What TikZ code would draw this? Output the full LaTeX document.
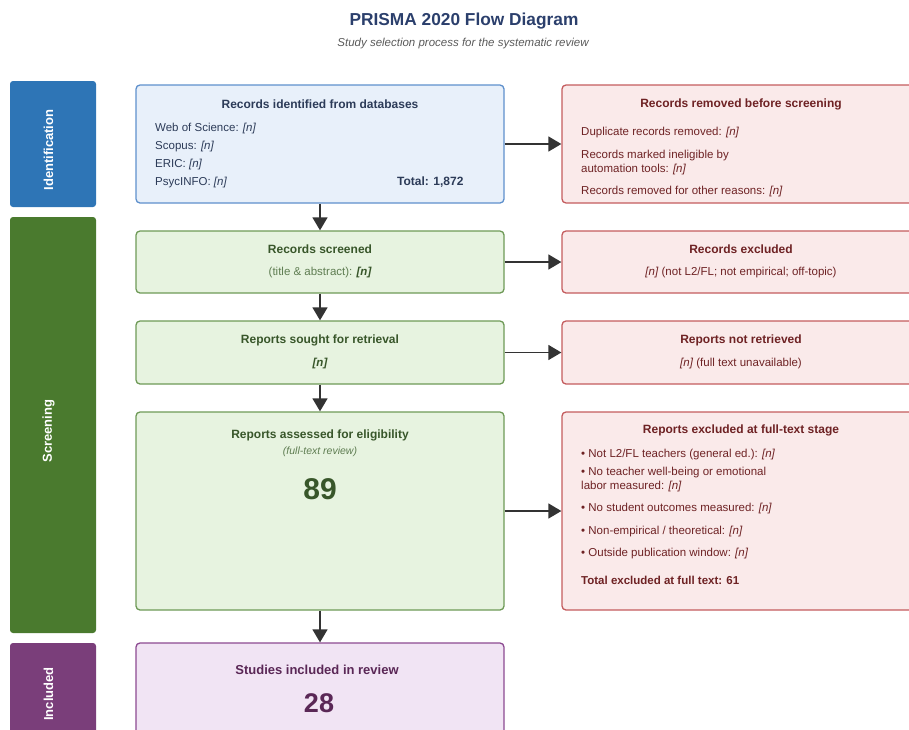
\documentclass[tikz,border=0pt]{standalone}
\usepackage{fontspec}
\setmainfont{Liberation Sans}
\usetikzlibrary{arrows.meta}

\definecolor{titleblue}{HTML}{2B3F6C}
\definecolor{subgray}{HTML}{5A5A5A}
\definecolor{idfill}{HTML}{E8F0FA}
\definecolor{idline}{HTML}{5E90CC}
\definecolor{idtext}{HTML}{2C3B58}
\definecolor{grfill}{HTML}{E7F3E0}
\definecolor{grline}{HTML}{6E9A57}
\definecolor{grtext}{HTML}{38562A}
\definecolor{grsoft}{HTML}{5F7D52}
\definecolor{rdfill}{HTML}{FAEAEA}
\definecolor{rdline}{HTML}{C45C5E}
\definecolor{rdtext}{HTML}{6E2224}
\definecolor{pufill}{HTML}{F1E4F4}
\definecolor{puline}{HTML}{8C4A91}
\definecolor{putext}{HTML}{5A2756}
\definecolor{barblue}{HTML}{2E75B6}
\definecolor{bargreen}{HTML}{4A7A2E}
\definecolor{barpurple}{HTML}{7A3E7A}
\definecolor{arrgray}{HTML}{333333}

\begin{document}
\begin{tikzpicture}[x=1pt,y=-1pt,
  box/.style={draw,rounded corners=4pt,line width=1.3pt,inner sep=0pt},
  idbox/.style={box,draw=idline,fill=idfill},
  grbox/.style={box,draw=grline,fill=grfill,minimum width=368},
  rdbox/.style={box,draw=rdline,fill=rdfill,minimum width=358},
  pubox/.style={box,draw=puline,fill=pufill,minimum width=368},
  bar/.style={rounded corners=3pt,minimum width=86,inner sep=0pt},
  barlabel/.style={rotate=90,text=white,inner sep=0pt,
    font=\bfseries\fontsize{13}{15}\selectfont},
  head/.style={font=\bfseries\fontsize{12}{14}\selectfont,inner sep=0pt},
  body/.style={font=\fontsize{11.5}{14}\selectfont,anchor=west,align=left,inner sep=0pt},
  cbody/.style={font=\fontsize{11.5}{14}\selectfont,inner sep=0pt},
  big/.style={font=\bfseries\fontsize{30}{32}\selectfont,inner sep=0pt},
  arr/.style={draw=arrgray,line width=1.5pt,-{Triangle[length=13pt,width=15pt]}}
]
\clip (0,0) rectangle (909,729);

% title
\node[font=\bfseries\fontsize{17.3}{20}\selectfont,text=titleblue] (title) at (464,21) {PRISMA 2020 Flow Diagram};
\node[font=\itshape\fontsize{11.5}{14}\selectfont,text=subgray] (subtitle) at (463,44) {Study selection process for the systematic review};

% phase bars
\node[bar,fill=barblue,minimum height=126] (idbar) at (53,144) {};
\node[bar,fill=bargreen,minimum height=416] (scbar) at (53,425) {};
\node[bar,fill=barpurple,minimum height=90] (inbar) at (53,688) {};
\node[barlabel] (idlabel) at ([xshift=-4.5pt,yshift=-6pt]idbar.center) {Identification};
\node[barlabel] (sclabel) at ([xshift=-4.5pt,yshift=-6pt]scbar.center) {Screening};
\node[barlabel] (inlabel) at ([xshift=-4.5pt,yshift=-6pt]inbar.center) {Included};

% left column
\node[idbox,minimum width=368,minimum height=118] (ident) at (320,144) {};
\node[grbox,minimum height=62] (screen) at (320,262) {};
\node[grbox,minimum height=63] (sought) at (320,352.5) {};
\node[grbox,minimum height=198] (assess) at (320,511) {};
\node[pubox,minimum height=112] (incl) at (320,699) {};

% right column
\node[rdbox,minimum height=118] (removed) at (741,144) {};
\node[rdbox,minimum height=62] (excl) at (741,262) {};
\node[rdbox,minimum height=63] (notret) at (741,352.5) {};
\node[rdbox,minimum height=198] (ftex) at (741,511) {};

% arrows
\draw[arr] (ident) -- (screen);
\draw[arr] (screen) -- (sought);
\draw[arr] (sought) -- (assess);
\draw[arr] (assess) -- (incl);
\draw[arr] (ident) -- (removed);
\draw[arr] (screen) -- (excl);
\draw[arr] (sought) -- (notret);
\draw[arr] (assess) -- (ftex);

% identification
\node[head,text=idtext] (identh) at (320,104) {Records identified from databases};
\foreach \t/\y [count=\i] in {Web of Science/127,Scopus/145,ERIC/163,PsycINFO/181}
  \node[body,text=idtext] (db\i) at (155,\y+2) {\t: \textit{[n]}};
\node[head,text=idtext,anchor=west] (total) at (397,182) {Total: 1,872};

\node[head,text=rdtext] (removedh) at (741,104) {Records removed before screening};
\node[body,text=rdtext] (rm1) at (581,133) {Duplicate records removed: \textit{[n]}};
\node[body,text=rdtext] (rm2) at (581,163) {Records marked ineligible by\\automation tools: \textit{[n]}};
\node[body,text=rdtext] (rm3) at (581,192) {Records removed for other reasons: \textit{[n]}};

% screening
\node[head,text=grtext] (screenh) at (320,249) {Records screened};
\node[cbody,text=grsoft] (screenb) at (320,273) {(title \& abstract): \textcolor{grtext}{\bfseries\itshape [n]}};
\node[head,text=rdtext] (exclh) at (741,249) {Records excluded};
\node[cbody,text=rdtext] (exclb) at (741,273) {\textit{[n]} (not L2/FL; not empirical; off-topic)};

\node[head,text=grtext] (soughth) at (320,340) {Reports sought for retrieval};
\node[cbody,text=grtext] (soughtb) at (320,364) {\bfseries\itshape [n]};
\node[head,text=rdtext] (notreth) at (741,340) {Reports not retrieved};
\node[cbody,text=rdtext] (notretb) at (741,364) {\textit{[n]} (full text unavailable)};

\node[head,text=grtext] (assessh) at (320,435) {Reports assessed for eligibility};
\node[font=\itshape\fontsize{10.5}{12}\selectfont,text=grsoft,inner sep=0pt] (assesss) at (320,452) {(full-text review)};
\node[big,text=grtext] (assessn) at (320,489) {89};

\node[head,text=rdtext] (ftexh) at (741,430) {Reports excluded at full-text stage};
\node[body,text=rdtext] (fx1) at (581,455) {• Not L2/FL teachers (general ed.): \textit{[n]}};
\node[body,text=rdtext] (fx2) at (581,480) {• No teacher well-being or emotional\\labor measured: \textit{[n]}};
\node[body,text=rdtext] (fx3) at (581,509) {• No student outcomes measured: \textit{[n]}};
\node[body,text=rdtext] (fx4) at (581,532) {• Non-empirical / theoretical: \textit{[n]}};
\node[body,text=rdtext] (fx5) at (581,554) {• Outside publication window: \textit{[n]}};
\node[body,text=rdtext,font=\bfseries\fontsize{11.5}{14}\selectfont] (fxt) at (581,580) {Total excluded at full text: 61};

% included
\node[head,text=putext,font=\bfseries\fontsize{13}{15}\selectfont] (inclh) at (317,670) {Studies included in review};
\node[big,text=putext,font=\bfseries\fontsize{27}{30}\selectfont] (incln) at (319,703) {28};
\end{tikzpicture}
\end{document}
